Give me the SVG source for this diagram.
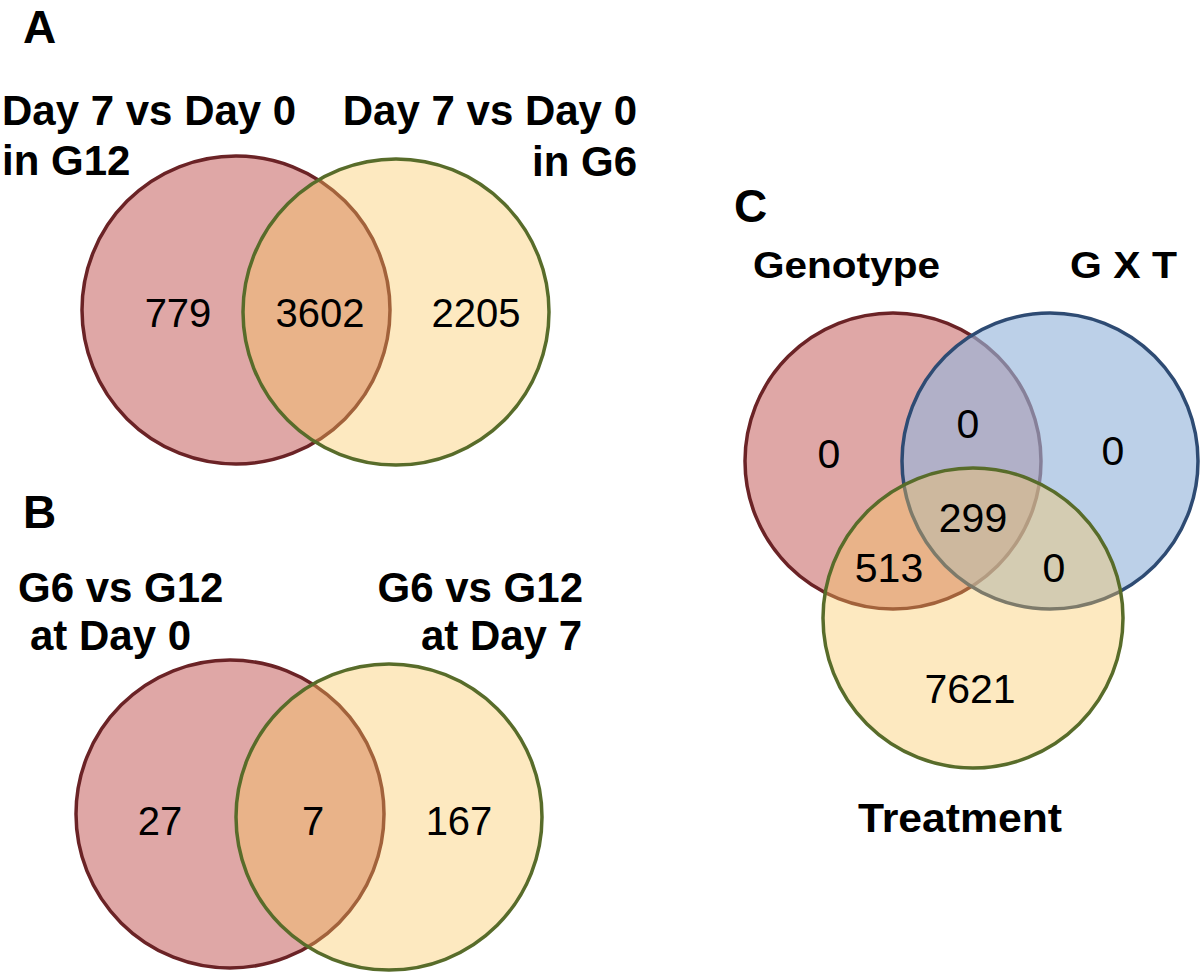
<svg xmlns="http://www.w3.org/2000/svg" width="1200" height="974" viewBox="0 0 1200 974">
<style>
.bg{fill:#ffffff}
.red{fill:rgba(192,80,77,0.5);stroke:#6b2326;stroke-width:3.5}
.yel{fill:rgba(250,198,93,0.39);stroke:#586c2a;stroke-width:3.5}
.blu{fill:rgba(150,182,219,0.64);stroke:#2e4b73;stroke-width:3.5}
.ttl{font-family:"Liberation Sans",Arial,sans-serif;font-weight:bold;font-size:42px;fill:#000}
.pan{font-family:"Liberation Sans",Arial,sans-serif;font-weight:bold;font-size:46px;fill:#000}
.num{font-family:"Liberation Sans",Arial,sans-serif;font-size:40px;fill:#000;text-anchor:middle}
.numc{font-family:"Liberation Sans",Arial,sans-serif;font-size:41px;fill:#000;text-anchor:middle}
.lab{font-family:"Liberation Sans",Arial,sans-serif;font-weight:bold;font-size:36px;fill:#000}
.end{text-anchor:end}
</style>
<rect class="bg" x="0" y="0" width="1200" height="974"/>

<g id="panelA">
  <text class="pan" x="23" y="43">A</text>
  <g id="A-set1">
    <circle class="red" cx="236" cy="310" r="154"/>
    <text class="ttl" x="2" y="125">Day 7 vs Day 0</text>
    <text class="ttl" x="2" y="175">in G12</text>
  </g>
  <g id="A-set2">
    <circle class="yel" cx="396" cy="312" r="153"/>
    <text class="ttl end" x="637" y="125">Day 7 vs Day 0</text>
    <text class="ttl end" x="637" y="176">in G6</text>
  </g>
  <g id="A-counts">
    <text class="num" x="178" y="327">779</text>
    <text class="num" x="320" y="327">3602</text>
    <text class="num" x="476" y="327">2205</text>
  </g>
</g>

<g id="panelB">
  <text class="pan" x="23" y="528">B</text>
  <g id="B-set1">
    <circle class="red" cx="230" cy="814" r="154"/>
    <text class="ttl" x="18" y="602">G6 vs G12</text>
    <text class="ttl" x="30" y="650">at Day 0</text>
  </g>
  <g id="B-set2">
    <circle class="yel" cx="389" cy="817" r="153"/>
    <text class="ttl end" x="583" y="602">G6 vs G12</text>
    <text class="ttl end" x="582" y="650">at Day 7</text>
  </g>
  <g id="B-counts">
    <text class="num" x="160" y="835">27</text>
    <text class="num" x="313" y="835">7</text>
    <text class="num" x="459" y="835">167</text>
  </g>
</g>

<g id="panelC">
  <text class="pan" x="734" y="222">C</text>
  <g id="C-genotype">
    <circle class="red" cx="893" cy="461" r="148"/>
    <text class="lab" x="753" y="278" textLength="187" lengthAdjust="spacingAndGlyphs">Genotype</text>
  </g>
  <g id="C-gxt">
    <circle class="blu" cx="1050" cy="461" r="148"/>
    <text class="lab" x="1070" y="278" textLength="107" lengthAdjust="spacingAndGlyphs">G X T</text>
  </g>
  <g id="C-treatment">
    <circle class="yel" cx="973" cy="618" r="150"/>
    <text class="lab" x="858" y="832" style="font-size:40px" textLength="204" lengthAdjust="spacingAndGlyphs">Treatment</text>
  </g>
  <g id="C-counts">
    <text class="numc" x="829" y="468">0</text>
    <text class="numc" x="968" y="438">0</text>
    <text class="numc" x="1113" y="465">0</text>
    <text class="numc" x="973" y="532">299</text>
    <text class="numc" x="889" y="582">513</text>
    <text class="numc" x="1054" y="582">0</text>
    <text class="numc" x="970" y="703">7621</text>
  </g>
</g>
</svg>
